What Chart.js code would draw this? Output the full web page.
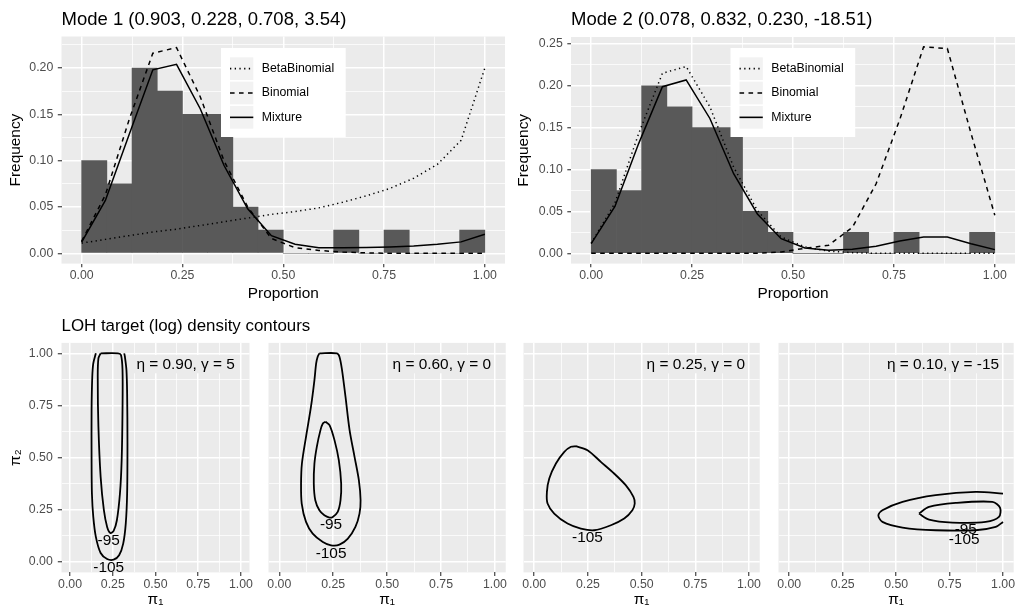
<!DOCTYPE html>
<html>
<head>
<meta charset="utf-8">
<title>LOH mode fits</title>
<script src="https://cdn.jsdelivr.net/npm/chart.js@4.4.0/dist/chart.umd.min.js"></script>
<style>
  body { margin: 0; background: #fff; }
  #page { position: relative; width: 1016px; height: 606px; overflow: hidden; }
  canvas { position: absolute; }
</style>
</head>
<body>
<div id="page">
  <canvas id="mode1" width="508" height="310" style="left:0;top:0"></canvas>
  <canvas id="mode2" width="508" height="310" style="left:508px;top:0"></canvas>
  <canvas id="loh1" width="320" height="296" style="left:0;top:310px"></canvas>
  <canvas id="loh2" width="254" height="296" style="left:254px;top:310px"></canvas>
  <canvas id="loh3" width="254" height="296" style="left:508px;top:310px"></canvas>
  <canvas id="loh4" width="254" height="296" style="left:762px;top:310px"></canvas>
</div>
<script>
var FONT = "'Liberation Sans', Arial, sans-serif";

// ---- histogram panels ----
var binCentres = [0.03125, 0.09375, 0.15625, 0.21875, 0.28125, 0.34375, 0.40625, 0.46875,
                  0.53125, 0.59375, 0.65625, 0.71875, 0.78125, 0.84375, 0.90625, 0.96875];
var observedFreq = [0.1, 0.075, 0.2, 0.175, 0.15, 0.15, 0.05, 0.025, 0, 0, 0.025, 0, 0.025, 0, 0, 0.025];

// proportions where the fitted curves were evaluated
var proportions = [0, 0.0588, 0.1176, 0.1765, 0.2353, 0.2941, 0.3529, 0.4118, 0.4706,
                   0.5294, 0.5882, 0.6471, 0.7059, 0.7647, 0.8235, 0.8824, 0.9412, 1];

var mode1BetaBinomial = [0.011, 0.015, 0.019, 0.023, 0.026, 0.030, 0.034, 0.038, 0.042,
                         0.045, 0.049, 0.055, 0.062, 0.070, 0.081, 0.096, 0.122, 0.200];
var mode1Binomial = [0.013, 0.063, 0.144, 0.216, 0.222, 0.169, 0.100, 0.050, 0.016,
                     0.006, 0.003, 0.0014, 0.0004, 0, 0, 0, 0, 0];
var mode1Mixture = [0.012, 0.057, 0.128, 0.198, 0.204, 0.156, 0.095, 0.048, 0.019,
                    0.0097, 0.0061, 0.006, 0.0062, 0.0068, 0.0079, 0.0097, 0.0123, 0.0205];

var mode2BetaBinomial = [0.012, 0.060, 0.143, 0.215, 0.223, 0.175, 0.103, 0.051, 0.0195,
                         0.0076, 0.0025, 0.0008, 0, 0, 0, 0, 0, 0];
var mode2Binomial = [0, 0, 0, 0, 0, 0, 0, 0, 0.0016,
                     0.006, 0.0096, 0.031, 0.083, 0.160, 0.2465, 0.2445, 0.143, 0.0454];
var mode2Mixture = [0.0115, 0.056, 0.131, 0.199, 0.207, 0.161, 0.095, 0.047, 0.0175,
                    0.0064, 0.0036, 0.0048, 0.0084, 0.0147, 0.0195, 0.0195, 0.0115, 0.0044];

var proportionTicks = [0, 0.125, 0.25, 0.375, 0.5, 0.625, 0.75, 0.875, 1];
var freqTicks1 = [0, 0.025, 0.05, 0.075, 0.1, 0.125, 0.15, 0.175, 0.2, 0.225];
var freqTicks2 = [0, 0.025, 0.05, 0.075, 0.1, 0.125, 0.15, 0.175, 0.2, 0.225, 0.25];

var modeTitles = ['Mode 1 (0.903, 0.228, 0.708, 3.54)', 'Mode 2 (0.078, 0.832, 0.230, -18.51)'];
var curveNames = ['BetaBinomial', 'Binomial', 'Mixture'];

// ---- contour panels (pi1, pi2) ----
var lohNotes = ['η = 0.90, γ = 5', 'η = 0.60, γ = 0', 'η = 0.25, γ = 0', 'η = 0.10, γ = -15'];

var loh1Outer = [[0.151, 1.0], [0.136, 0.952], [0.130, 0.888], [0.126, 0.728], [0.126, 0.488],
  [0.128, 0.328], [0.136, 0.216], [0.151, 0.12], [0.179, 0.043], [0.217, 0.014], [0.255, 0.011],
  [0.287, 0.032], [0.311, 0.088], [0.326, 0.184], [0.334, 0.328], [0.336, 0.568], [0.334, 0.808],
  [0.330, 0.92], [0.321, 0.984], [0.317, 1.0]];
var loh1Inner = [[0.179, 1.0], [0.166, 0.976], [0.162, 0.888], [0.166, 0.648], [0.179, 0.408],
  [0.198, 0.248], [0.217, 0.168], [0.236, 0.139], [0.255, 0.149], [0.274, 0.2], [0.292, 0.328],
  [0.302, 0.488], [0.307, 0.728], [0.307, 0.92], [0.298, 0.992], [0.28, 1.0], [0.179, 1.0]];
var loh1Levels = [{text: '-95', x: 0.226, y: 0.101}, {text: '-105', x: 0.226, y: -0.027}];

var loh2Outer = [[0.186, 1.0], [0.267, 1.0], [0.279, 0.984], [0.291, 0.92], [0.307, 0.792],
  [0.326, 0.632], [0.349, 0.504], [0.369, 0.392], [0.377, 0.296], [0.372, 0.232], [0.353, 0.168],
  [0.318, 0.112], [0.279, 0.083], [0.24, 0.08], [0.202, 0.096], [0.155, 0.136], [0.124, 0.192],
  [0.104, 0.28], [0.101, 0.376], [0.105, 0.472], [0.124, 0.6], [0.147, 0.744], [0.163, 0.872],
  [0.171, 0.952], [0.178, 0.984], [0.186, 1.0]];
var loh2Inner = [[0.214, 0.672], [0.233, 0.656], [0.256, 0.584], [0.276, 0.488], [0.287, 0.376],
  [0.284, 0.296], [0.271, 0.24], [0.248, 0.216], [0.233, 0.213], [0.209, 0.224], [0.186, 0.248],
  [0.167, 0.296], [0.16, 0.376], [0.163, 0.472], [0.174, 0.552], [0.191, 0.632], [0.202, 0.664],
  [0.214, 0.672]];
var loh2Levels = [{text: '-95', x: 0.24, y: 0.176}, {text: '-105', x: 0.24, y: 0.04}];

var loh3Outer = [[0.194, 0.555], [0.248, 0.536], [0.31, 0.48], [0.372, 0.424], [0.426, 0.368],
  [0.462, 0.312], [0.468, 0.28], [0.457, 0.248], [0.419, 0.208], [0.357, 0.176], [0.279, 0.152],
  [0.217, 0.16], [0.155, 0.184], [0.093, 0.232], [0.062, 0.28], [0.059, 0.336], [0.07, 0.4],
  [0.101, 0.472], [0.14, 0.528], [0.171, 0.552], [0.194, 0.555]];
var loh3Levels = [{text: '-105', x: 0.248, y: 0.115}];

var loh4Outer = [[1.0, 0.328], [0.872, 0.336], [0.685, 0.32], [0.53, 0.288], [0.436, 0.248],
  [0.417, 0.224], [0.436, 0.192], [0.53, 0.165], [0.685, 0.152], [0.872, 0.152], [0.966, 0.168],
  [1.0, 0.192]];
var loh4Inner = [[0.607, 0.232], [0.654, 0.264], [0.779, 0.283], [0.950, 0.288], [0.986, 0.261],
  [0.981, 0.216], [0.919, 0.192], [0.763, 0.189], [0.654, 0.203], [0.607, 0.232]];
var loh4Levels = [{text: '-95', x: 0.826, y: 0.155}, {text: '-105', x: 0.818, y: 0.107}];

var piTicks = [0, 0.125, 0.25, 0.375, 0.5, 0.625, 0.75, 0.875, 1];

function isMajor(v, step) {
  return Math.abs(v / step - Math.round(v / step)) < 1e-6;
}

function toPoints(xs, ys) {
  return xs.map(function (x, i) { return {x: x, y: ys[i]}; });
}

// grey panel behind the grid, ggplot style
var panelBackground = {
  id: 'panelBackground',
  beforeDraw: function (chart) {
    var a = chart.chartArea, ctx = chart.ctx;
    ctx.save();
    ctx.fillStyle = '#EBEBEB';
    ctx.fillRect(a.left, a.top, a.right - a.left, a.bottom - a.top);
    ctx.restore();
  }
};

var plotTitle = {
  id: 'plotTitle',
  afterDraw: function (chart, args, opts) {
    if (!opts.text) return;
    var ctx = chart.ctx;
    ctx.save();
    ctx.font = opts.size + 'px ' + FONT;
    ctx.fillStyle = '#000';
    ctx.textBaseline = 'middle';
    ctx.textAlign = 'left';
    ctx.fillText(opts.text, chart.chartArea.left, opts.y);
    ctx.restore();
  }
};

var curveLegend = {
  id: 'curveLegend',
  afterDraw: function (chart, args, opts) {
    if (!opts.items) return;
    var ctx = chart.ctx;
    var left = chart.chartArea.left + 159.5, top = 48;
    ctx.save();
    ctx.fillStyle = '#FFFFFF';
    ctx.fillRect(left, top, 124.7, 89);
    opts.items.forEach(function (item, i) {
      var y = top + 9.3 + i * 24.35;
      ctx.fillStyle = '#F2F2F2';
      ctx.fillRect(left + 9, y, 23.3, 22.7);
      ctx.strokeStyle = '#000';
      ctx.lineWidth = 1.6;
      ctx.setLineDash(item.dash);
      ctx.beginPath();
      ctx.moveTo(left + 9, y + 11.35);
      ctx.lineTo(left + 32.3, y + 11.35);
      ctx.stroke();
      ctx.setLineDash([]);
      ctx.fillStyle = '#000';
      ctx.font = '12.3px ' + FONT;
      ctx.textBaseline = 'middle';
      ctx.fillText(item.label, left + 40.7, y + 11.35);
    });
    ctx.restore();
  }
};

var contourNotes = {
  id: 'contourNotes',
  afterDatasetsDraw: function (chart, args, opts) {
    if (!opts.note) return;
    var ctx = chart.ctx, a = chart.chartArea;
    var xs = chart.scales.x, ys = chart.scales.y;
    ctx.save();
    ctx.beginPath();
    ctx.rect(a.left, a.top, a.right - a.left, a.bottom - a.top);
    ctx.clip();
    ctx.font = '15.4px ' + FONT;
    ctx.fillStyle = '#000';
    ctx.textAlign = 'center';
    ctx.textBaseline = 'middle';
    opts.levels.forEach(function (lab) {
      ctx.fillText(lab.text, xs.getPixelForValue(lab.x), ys.getPixelForValue(lab.y));
    });
    var w = ctx.measureText(opts.note).width;
    var right = a.right - 12.2, top = a.top + 12.1;
    ctx.fillStyle = '#EBEBEB';
    ctx.fillRect(right - w - 5, top, w + 5, 18.3);
    ctx.fillStyle = '#000';
    ctx.textAlign = 'right';
    ctx.fillText(opts.note, right - 2.5, top + 9.6);
    ctx.restore();
  }
};

function makeAxis(min, max, ticks, majorStep, show, labelPad, size, title) {
  return {
    type: 'linear',
    min: min,
    max: max,
    offset: false,
    afterBuildTicks: function (scale) {
      scale.ticks = ticks.map(function (v) { return {value: v}; });
    },
    afterFit: function (scale) {
      if (scale.isHorizontal()) scale.height = size; else scale.width = size;
    },
    grid: {
      offset: false,
      color: '#FFFFFF',
      lineWidth: function (c) { return c.tick && isMajor(c.tick.value, majorStep) ? 1.5 : 0.75; },
      drawTicks: show,
      tickLength: 3.7,
      tickWidth: 1.1,
      tickColor: function (c) { return c.tick && isMajor(c.tick.value, majorStep) ? '#333333' : 'rgba(0,0,0,0)'; }
    },
    border: {display: false},
    ticks: {
      display: show,
      color: '#4D4D4D',
      font: {size: 12.3},
      padding: labelPad,
      maxRotation: 0,
      autoSkip: false,
      callback: function (v) { return isMajor(v, majorStep) ? v.toFixed(2) : ''; }
    },
    title: title || {display: false}
  };
}

function axisTitle(text, pad) {
  return {display: true, text: text, color: '#000', font: {size: 15.4, lineHeight: 1.2}, padding: pad};
}

function showModeChart(id, title, yMax, yTicks, yWidth, pad, lines) {
  var dashes = [[1.3, 3.4], [4.6, 4.4], []];
  var datasets = lines.map(function (ys, i) {
    return {
      type: 'line',
      label: curveNames[i],
      data: toPoints(proportions, ys),
      borderColor: '#000',
      borderWidth: 1.5,
      borderDash: dashes[i],
      pointRadius: 0,
      tension: 0,
      order: i
    };
  });
  datasets.push({
    type: 'bar',
    label: 'Observed',
    data: toPoints(binCentres, observedFreq),
    backgroundColor: '#595959',
    borderWidth: 0,
    barPercentage: 1,
    categoryPercentage: 1,
    order: 10
  });
  return new Chart(document.getElementById(id), {
    type: 'bar',
    data: {datasets: datasets},
    options: {
      responsive: false,
      animation: false,
      events: [],
      layout: {padding: pad},
      scales: {
        x: makeAxis(-0.05, 1.05, proportionTicks, 0.25, true, 1.3, 46.4, axisTitle('Proportion', {top: 0, bottom: 7.5})),
        y: makeAxis(-yMax * 0.05 / 1.05, yMax, yTicks, 0.05, true, 4.5, yWidth, axisTitle('Frequency', {top: 6.3, bottom: 0}))
      },
      plugins: {
        legend: {display: false},
        tooltip: {enabled: false},
        plotTitle: {text: title, size: 18.5, y: 19.5},
        curveLegend: {
          items: curveNames.map(function (n, i) { return {label: n, dash: dashes[i]}; })
        }
      }
    },
    plugins: [panelBackground, plotTitle, curveLegend]
  });
}

function contourSet(points) {
  return {
    data: points.map(function (p) { return {x: p[0], y: p[1]}; }),
    showLine: true,
    borderColor: '#000',
    borderWidth: 1.8,
    pointRadius: 0,
    tension: 0.3,
    fill: false
  };
}

function showContourChart(id, contours, levels, note, firstPanel, pad) {
  var yAxis = firstPanel
    ? makeAxis(-0.05, 1.05, piTicks, 0.25, true, 5, 61.5, axisTitle('π₂', {top: 6.3, bottom: 0}))
    : makeAxis(-0.05, 1.05, piTicks, 0.25, false, 0, 0, null);
  var xTitle = {display: true, text: 'π₁', color: '#000', font: {size: 15.4, lineHeight: 1}, padding: {top: 0, bottom: -1}};
  return new Chart(document.getElementById(id), {
    type: 'scatter',
    data: {datasets: contours.map(contourSet)},
    options: {
      responsive: false,
      animation: false,
      events: [],
      layout: {padding: pad},
      scales: {
        x: makeAxis(-0.05, 1.05, piTicks, 0.25, true, 1, 33.6, xTitle),
        y: yAxis
      },
      plugins: {
        legend: {display: false},
        tooltip: {enabled: false},
        plotTitle: {text: firstPanel ? 'LOH target (log) density contours' : '', size: 16.9, y: 16.5},
        contourNotes: {note: note, levels: levels}
      }
    },
    plugins: [panelBackground, plotTitle, contourNotes]
  });
}

Chart.defaults.font.family = FONT;

showModeChart('mode1', modeTitles[0], 0.234, freqTicks1, 61.5, {left: 0, top: 36.5, right: 3, bottom: 0},
  [mode1BetaBinomial, mode1Binomial, mode1Mixture]);
showModeChart('mode2', modeTitles[1], 0.2583, freqTicks2, 63, {left: 0, top: 37, right: 1, bottom: 0},
  [mode2BetaBinomial, mode2Binomial, mode2Mixture]);

showContourChart('loh1', [loh1Outer, loh1Inner], loh1Levels, lohNotes[0], true, {left: 0, top: 32.9, right: 70.5, bottom: 0});
showContourChart('loh2', [loh2Outer, loh2Inner], loh2Levels, lohNotes[1], false, {left: 14.5, top: 32.9, right: 2.2, bottom: 0});
showContourChart('loh3', [loh3Outer], loh3Levels, lohNotes[2], false, {left: 15.5, top: 32.9, right: 1.2, bottom: 0});
showContourChart('loh4', [loh4Outer, loh4Inner], loh4Levels, lohNotes[3], false, {left: 16.5, top: 32.9, right: 0.5, bottom: 0});
</script>
</body>
</html>
